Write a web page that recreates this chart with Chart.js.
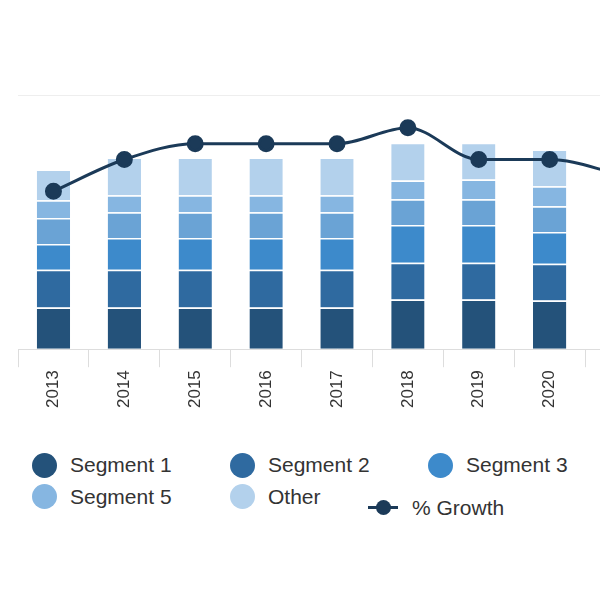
<!DOCTYPE html>
<html>
<head>
<meta charset="utf-8">
<script src="https://cdn.jsdelivr.net/npm/chart.js@4/dist/chart.umd.min.js"></script>
<style>
  html, body { margin: 0; padding: 0; background: #fff; overflow: hidden; }
  #wrap { width: 600px; height: 600px; overflow: hidden; position: relative; }
  #box { width: 666px; height: 430px; }
  #legend { position: absolute; left: 32px; top: 451px; width: 800px; font-family: 'Liberation Sans', sans-serif; font-size: 21px; color: #333; }
  #legend .item { display: inline-flex; align-items: center; width: 198px; height: 28px; white-space: nowrap; }
  #legend .item.short { width: 138px; }
  #legend .dot { width: 25px; height: 25px; border-radius: 50%; margin-right: 13px; }
  #legend .ln { position: relative; width: 30px; height: 3px; margin-right: 14px; }
  #legend .ln::after { content: ''; position: absolute; left: 8px; top: -6px; width: 15px; height: 15px; border-radius: 50%; background: inherit; }
</style>
</head>
<body>
<div id="wrap"><div id="box"><canvas id="chart"></canvas></div><div id="legend"></div></div>
<script>
let years = ['2013', '2014', '2015', '2016', '2017', '2018', '2019', '2020', '2021'];
let segment1 = [42, 42, 42, 42, 42, 50, 50, 49, 49];
let segment2 = [38, 38, 38, 38, 38, 37, 37, 37, 37];
let segment3 = [26, 32, 32, 32, 32, 38, 38, 32, 32];
let segment4 = [26, 26, 26, 26, 26, 26, 26, 26, 26];
let segment5 = [18, 17, 17, 17, 17, 19, 20, 20, 20];
let other = [31, 38, 38, 38, 38, 38, 37, 37, 37];
let growth = [159, 191, 207, 207, 207, 223, 191, 191, 176];

const colors = ['#24527a', '#2f6aa0', '#3d8acb', '#6aa3d5', '#86b6e1', '#b3d1ec'];

function bar(label, data, color) {
  return {
    type: 'bar', label: label, data: data, backgroundColor: color,
    borderColor: '#fff', borderWidth: { top: 1.5 }, borderSkipped: false,
    barPercentage: 0.47, categoryPercentage: 1, order: 2
  };
}

const config = {
  data: {
    labels: years,
    datasets: [
      bar('Segment 1', segment1, colors[0]),
      bar('Segment 2', segment2, colors[1]),
      bar('Segment 3', segment3, colors[2]),
      bar('Segment 4', segment4, colors[3]),
      bar('Segment 5', segment5, colors[4]),
      bar('Other', other, colors[5]),
      {
        type: 'line', label: '% Growth', data: growth, stack: 'line',
        borderColor: '#1b3a58', backgroundColor: '#1b3a58', borderWidth: 3,
        pointRadius: 7, pointHoverRadius: 7, cubicInterpolationMode: 'monotone',
        order: 1
      }
    ]
  },
  options: {
    responsive: true,
    maintainAspectRatio: false,
    animation: false,
    layout: { padding: { top: 95, left: 18, right: 0, bottom: 19 } },
    scales: {
      x: {
        stacked: true,
        grid: { offset: true, drawOnChartArea: false, tickLength: 18, color: '#ddd' },
        border: { color: '#ddd' },
        ticks: { maxRotation: 90, minRotation: 90, color: '#333', font: { family: 'Liberation Sans', size: 17 } }
      },
      y: {
        stacked: true, min: 0, max: 256, display: true,
        ticks: { display: false, stepSize: 256 },
        border: { display: false },
        grid: { color: ctx => ctx.tick.value === 256 ? '#eee' : 'rgba(0,0,0,0)', drawTicks: false }
      }
    },
    plugins: { tooltip: { enabled: false }, legend: { display: false } }
  }
};

const chart = new Chart(document.getElementById('chart'), config);

// html legend built from the chart's datasets
let legend = document.getElementById('legend');
chart.data.datasets.forEach((ds, i) => {
  let item = document.createElement('span');
  item.className = 'item' + (ds.label === 'Other' ? ' short' : '');
  let mark = document.createElement('span');
  mark.className = ds.type === 'line' ? 'ln' : 'dot';
  mark.style.background = ds.type === 'line' ? ds.borderColor : ds.backgroundColor;
  item.appendChild(mark);
  item.appendChild(document.createTextNode(ds.label));
  legend.appendChild(item);
  if (i === 3) legend.appendChild(document.createElement('br'));
});
</script>
</body>
</html>
